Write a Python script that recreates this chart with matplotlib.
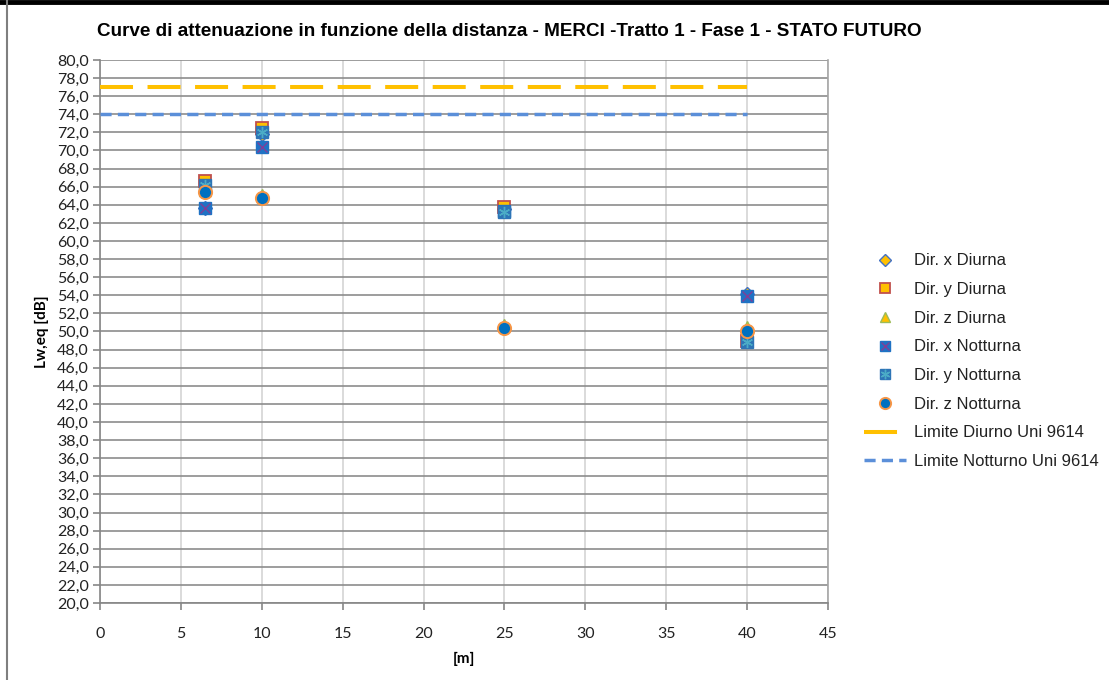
import numpy as np
import matplotlib.pyplot as plt
from matplotlib.legend_handler import HandlerTuple
from matplotlib.ticker import FuncFormatter

# distances [m]
distanze = [6.5, 10, 25, 40]
# Lw,eq [dB]
dir_x_diurna = [63.7, 71.8, 63.5, 54.1]
dir_y_diurna = [66.6, 72.5, 63.8, 48.9]
dir_z_diurna = [65.6, 65.1, 50.7, 50.5]
dir_x_notturna = [63.6, 70.4, 63.3, 53.9]
dir_y_notturna = [66.2, 72.0, 63.2, 48.8]
dir_z_notturna = [65.4, 64.8, 50.4, 50.0]
# limits
limite_x = [0, 40]
limite_diurno = 77.0
limite_notturno = 74.0

titolo = "Curve di attenuazione in funzione della distanza - MERCI -Tratto 1 - Fase 1 - STATO FUTURO"

gold = "#FFC000"
blu = "#1F72C4"

fig = plt.figure(figsize=(11.09, 6.80), dpi=100)
ax = fig.add_axes([100/1109, 1-603/680, 728/1109, 543/680])

# limit lines
l_d, = ax.plot(limite_x, [limite_diurno]*2, color=gold, lw=2.9, dashes=(8.2, 3.6),
               solid_capstyle='butt', zorder=3)
l_n, = ax.plot(limite_x, [limite_notturno]*2, color="#5B8FD9", lw=2.5, dashes=(3.2, 1.8),
               zorder=3)

# series
h1, = ax.plot(distanze, dir_x_diurna, ls='none', marker='D', ms=7, mfc=gold, mec="#4472C4", mew=1, zorder=4)
h2, = ax.plot(distanze, dir_y_diurna, ls='none', marker='s', ms=8.3, mfc=gold, mec="#C0504D", mew=1.3, zorder=5)
h3, = ax.plot(distanze, dir_z_diurna, ls='none', marker='^', ms=9, mfc=gold, mec="#9BBB59", mew=1, zorder=6)
h4a, = ax.plot(distanze, dir_x_notturna, ls='none', marker='s', ms=8.5, mfc=blu, mec=blu, zorder=7)
h4b, = ax.plot(distanze, dir_x_notturna, ls='none', marker='x', ms=7, mec="#7F3F98", mew=1, zorder=7)
h5a, = ax.plot(distanze, dir_y_notturna, ls='none', marker='s', ms=8.5, mfc="#2E75B6", mec="#2E75B6", zorder=8)
h5b, = ax.plot(distanze, dir_y_notturna, ls='none', marker=(6, 2, 0), ms=8, mec="#4BACC6", mew=1, zorder=8)
h6, = ax.plot(distanze, dir_z_notturna, ls='none', marker='o', ms=9.5, mfc="#0070C0", mec="#F79646", mew=1.4, zorder=9)

ax.set_xlim(0, 45)
ax.set_ylim(20, 80)
ax.set_xticks(np.arange(0, 46, 5))
ax.set_yticks(np.arange(20, 81, 2))
ax.yaxis.set_major_formatter(FuncFormatter(lambda v, p: f"{v:.1f}".replace('.', ',')))
ax.grid(axis='y', color="#8C8C8C", lw=1.2)
ax.grid(axis='x', color="#D4D4D4", lw=1.2)
ax.set_axisbelow(True)
ax.spines['top'].set_visible(False)
ax.spines['right'].set_color("#A6A6A6")
ax.spines['left'].set_color("#868686")
ax.spines['bottom'].set_color("#868686")
for s in ax.spines.values():
    s.set_linewidth(1.2)
ax.tick_params(axis='both', color="#868686", length=5, width=1.2, labelsize=11.5,
               labelcolor="#222222")
ax.tick_params(axis='x', pad=12)
ax.tick_params(axis='y', pad=3)
for lab in ax.get_xticklabels() + ax.get_yticklabels():
    lab.set_family("Lato")

ax.set_xlabel("[m]", fontsize=11, fontweight='bold', family="Lato", labelpad=8)
ax.set_ylabel("Lw,eq [dB]", fontsize=11, fontweight='bold', family="Lato", labelpad=6)

fig.text(509/1109, 1-32/680, titolo, ha='center', va='center', fontsize=13.6,
         fontweight='bold', family="Liberation Sans")

handles = [h1, h2, h3, (h4a, h4b), (h5a, h5b), h6, l_d, l_n]
labels = ["Dir. x Diurna", "Dir. y Diurna", "Dir. z Diurna", "Dir. x Notturna",
          "Dir. y Notturna", "Dir. z Notturna", "Limite Diurno Uni 9614", "Limite Notturno Uni 9614"]
leg = fig.legend(handles, labels, loc='upper left', bbox_to_anchor=(856/1109, 1-245/680),
                 frameon=False, prop={'family': 'Liberation Sans', 'size': 12},
                 handlelength=2.5, handletextpad=0.45, labelspacing=0.82, borderpad=0,
                 markerscale=0.85,
                 handler_map={tuple: HandlerTuple(ndivide=1, pad=0)})
for t in leg.get_texts():
    t.set_color("#222222")

# chart frame borders
fig.add_artist(plt.Line2D([0, 1], [1-2/680, 1-2/680], transform=fig.transFigure, color='black', lw=3.5))
fig.add_artist(plt.Line2D([7/1109, 7/1109], [0, 1], transform=fig.transFigure, color='#7F7F7F', lw=1.5))

fig.savefig("out.png", dpi=100)
